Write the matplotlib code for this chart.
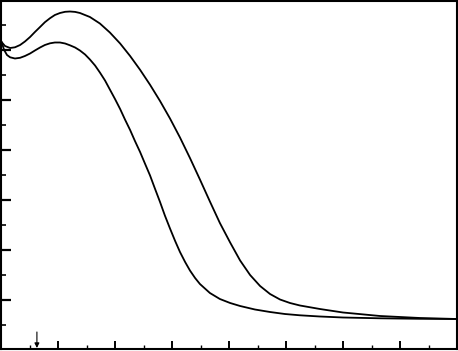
import matplotlib
matplotlib.use('Agg')
import matplotlib.pyplot as plt
from matplotlib.ticker import MultipleLocator

# values (x: 16 minor ticks across, y: 7 major units high)
upper_x = [0.02, 0.14, 0.32, 0.49, 0.67, 0.84, 1.02, 1.19, 1.37, 1.54, 1.72, 1.89,
           2.07, 2.25, 2.42, 2.60, 2.77, 3.12, 3.47, 3.82, 4.18, 4.53, 4.88, 5.23,
           5.58, 5.93, 6.28, 6.63, 6.98, 7.33, 7.68, 8.04, 8.39, 8.74, 9.09, 9.44,
           9.79, 10.14, 10.49, 11.19, 12.0, 13.30, 14.70, 16.0]
upper_y = [6.16, 6.08, 6.04, 6.054, 6.10, 6.17, 6.26, 6.36, 6.46, 6.556, 6.636, 6.70,
           6.74, 6.764, 6.77, 6.762, 6.74, 6.66, 6.53, 6.35, 6.13, 5.88, 5.604, 5.304,
           4.98, 4.63, 4.25, 3.84, 3.41, 2.97, 2.54, 2.15, 1.79, 1.50, 1.28, 1.12,
           1.01, 0.94, 0.89, 0.82, 0.75, 0.68, 0.64, 0.62]

lower_x = [0.02, 0.11, 0.21, 0.32, 0.49, 0.67, 0.84, 1.02, 1.19, 1.37, 1.54, 1.72,
           1.89, 2.07, 2.25, 2.42, 2.60, 2.77, 2.95, 3.12, 3.30, 3.47, 3.65, 3.82,
           4.0, 4.18, 4.35, 4.53, 4.70, 4.88, 5.05, 5.23, 5.40, 5.58, 5.75, 5.93,
           6.11, 6.28, 6.46, 6.63, 6.81, 6.98, 7.33, 7.68, 8.04, 8.39, 8.91, 9.44,
           9.96, 10.49, 11.19, 12.0, 13.30, 14.70, 16.0]
lower_y = [6.16, 6.00, 5.90, 5.854, 5.83, 5.844, 5.88, 5.93, 5.99, 6.05, 6.10, 6.134,
           6.15, 6.15, 6.13, 6.094, 6.05, 5.99, 5.91, 5.81, 5.69, 5.55, 5.39, 5.21,
           5.02, 4.82, 4.61, 4.40, 4.18, 3.96, 3.73, 3.49, 3.23, 2.96, 2.69, 2.43,
           2.18, 1.96, 1.76, 1.59, 1.44, 1.32, 1.14, 1.02, 0.94, 0.88, 0.81, 0.76,
           0.72, 0.694, 0.67, 0.65, 0.634, 0.624, 0.62]

arrow_x = 1.26

fig = plt.figure(figsize=(4.58, 3.51), dpi=100)
ax = fig.add_axes([1 / 458, 2 / 351, 456 / 458, 348 / 351])

ax.plot(upper_x, upper_y, color='black', lw=1.3)
ax.plot(lower_x, lower_y, color='black', lw=1.3)

ax.annotate('', xy=(arrow_x, 0.04), xytext=(arrow_x, 0.36),
            arrowprops=dict(arrowstyle='-|>', color='black', lw=0.8,
                            mutation_scale=7, shrinkA=0, shrinkB=0))

ax.set_xlim(0, 16)
ax.set_ylim(0.02, 6.98)
ax.xaxis.set_major_locator(MultipleLocator(2))
ax.xaxis.set_minor_locator(MultipleLocator(1))
ax.yaxis.set_major_locator(MultipleLocator(1))
ax.yaxis.set_minor_locator(MultipleLocator(0.5))
ax.tick_params(which='both', direction='in', labelleft=False, labelbottom=False,
               top=False, right=False)
ax.tick_params(axis='y', which='major', length=7, width=1.6)
ax.tick_params(axis='y', which='minor', length=3.5, width=1.2)
ax.tick_params(axis='x', which='major', length=6, width=1.4)
ax.tick_params(axis='x', which='minor', length=3, width=1.0)
for s in ax.spines.values():
    s.set_linewidth(1.5)

fig.savefig('out.png', dpi=100)
